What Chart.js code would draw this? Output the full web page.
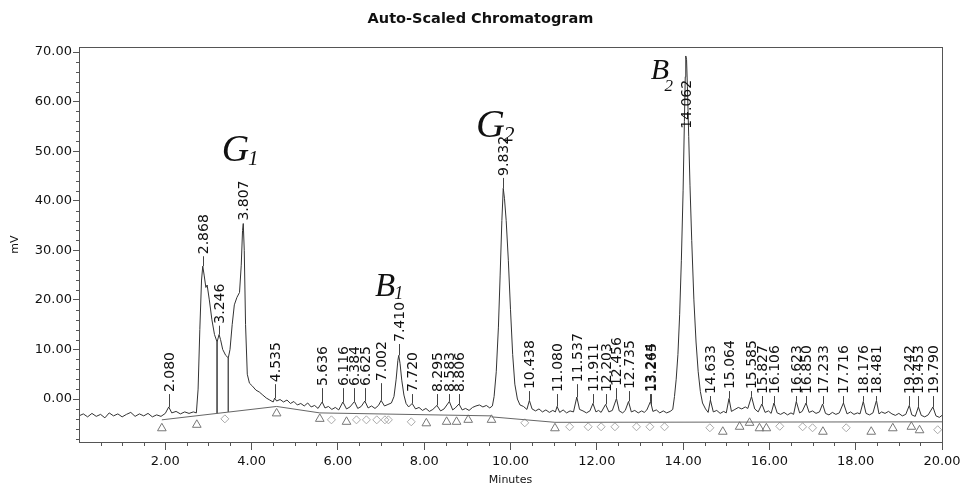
<!DOCTYPE html>
<html><head><meta charset="utf-8">
<style>html,body{margin:0;padding:0;background:#fff}canvas{display:block}</style>
<script src="https://cdn.jsdelivr.net/npm/chart.js@4.4.1/dist/chart.umd.min.js"></script>
</head><body>
<canvas id="c" width="961" height="487"></canvas>
<script>
// ---- data ----
const traceTime = [0.00,0.10,0.20,0.30,0.40,0.50,0.60,0.70,0.80,0.90,1.00,1.10,1.20,1.30,1.40,1.50,1.60,1.70,1.80,1.90,2.00,2.08,2.15,2.25,2.35,2.45,2.55,2.65,2.72,
 2.76,2.80,2.84,2.868,2.90,2.94,2.97,3.02,3.08,3.14,3.20,3.246,3.28,3.33,3.40,3.46,3.50,3.55,3.60,3.66,3.72,3.76,3.79,3.807,3.83,3.86,3.90,3.95,4.02,4.10,4.18,4.26,4.34,4.42,4.50,
 4.535,4.58,4.66,4.74,4.82,4.90,4.98,5.06,5.14,5.22,5.30,5.38,5.46,5.54,5.636,5.70,5.78,5.86,5.94,6.02,6.116,6.20,6.28,6.384,6.46,6.54,6.625,6.70,6.78,6.86,6.94,7.002,7.08,7.16,7.24,
 7.30,7.35,7.39,7.41,7.44,7.48,7.53,7.58,7.64,7.72,7.80,7.88,7.96,8.04,8.12,8.20,8.295,8.38,8.46,8.583,8.66,8.72,8.806,8.88,8.96,9.04,9.12,9.20,9.28,9.36,9.44,9.52,9.58,
 9.62,9.67,9.72,9.76,9.80,9.832,9.86,9.90,9.95,10.00,10.05,10.10,10.16,10.22,10.30,10.38,10.438,10.50,10.58,10.66,10.74,10.82,10.90,10.98,11.04,11.08,11.14,11.22,11.30,11.38,11.46,
 11.537,11.60,11.68,11.76,11.84,11.911,11.98,12.04,12.10,12.203,12.28,12.36,12.456,12.52,12.60,12.66,12.735,12.80,12.88,12.96,13.04,13.10,13.16,13.244,13.265,13.30,13.38,13.46,13.54,13.62,13.70,13.76,
 13.80,13.84,13.88,13.92,13.96,14.00,14.03,14.05,14.062,14.08,14.10,14.13,14.16,14.20,14.25,14.30,14.35,14.40,14.45,14.52,14.58,14.633,14.70,14.78,14.86,14.94,15.00,15.064,15.12,15.20,15.28,15.36,15.44,15.50,
 15.585,15.66,15.74,15.827,15.90,15.98,16.04,16.106,16.18,16.26,16.34,16.42,16.50,16.56,16.623,16.70,16.76,16.85,16.92,17.00,17.08,17.16,17.233,17.30,17.38,17.46,17.54,17.62,17.716,17.80,17.88,17.96,
 18.04,18.10,18.176,18.24,18.32,18.40,18.481,18.54,18.60,18.68,18.76,18.84,18.92,19.00,19.08,19.16,19.242,19.30,19.38,19.453,19.52,19.60,19.68,19.79,19.86,19.94,20.00];
const traceMV = [-3.4,-3.0,-3.6,-2.9,-3.5,-3.1,-3.8,-2.8,-3.4,-3.0,-3.6,-3.1,-2.7,-3.5,-3.0,-3.4,-2.9,-3.6,-3.2,-3.5,-2.9,-1.6,-2.8,-2.5,-3.0,-2.6,-2.9,-2.6,-2.8,
 2.0,14.0,24.0,26.8,25.0,22.5,23.0,20.0,16.0,13.0,11.5,13.0,12.0,10.0,8.8,8.3,10.0,15.0,19.0,20.5,21.5,27.0,34.0,35.4,30.0,15.0,5.0,3.2,2.6,1.8,1.4,0.8,0.2,-0.2,-0.6,
 0.2,-0.4,-0.1,-0.6,-0.2,-0.9,-0.5,-1.2,-0.9,-1.4,-0.8,-1.6,-1.3,-1.9,-0.6,-1.8,-1.5,-2.1,-1.7,-2.2,-0.6,-2.0,-1.6,-0.5,-1.9,-1.5,-0.4,-1.8,-1.4,-1.9,-1.3,-0.3,-1.4,-1.1,-0.8,
 0.5,4.0,7.8,8.8,7.2,3.8,0.8,-0.9,-1.6,-0.9,-2.0,-1.7,-2.3,-1.9,-2.5,-2.1,-1.3,-2.4,-2.0,-0.5,-2.2,-1.8,-1.0,-2.2,-1.9,-2.3,-1.7,-1.4,-1.2,-1.6,-1.3,-1.8,-1.4,
 0.5,5.5,14.5,25.0,36.0,42.5,40.5,36.0,28.0,18.0,9.0,3.0,0.0,-1.2,-1.5,-2.1,-0.3,-2.0,-2.4,-2.0,-2.6,-2.2,-2.7,-2.3,-2.6,-1.5,-2.7,-2.2,-2.8,-2.4,-2.6,
 0.4,-2.1,-2.4,-2.8,-2.4,-0.9,-2.6,-2.3,-2.7,-1.1,-2.6,-2.3,0.1,-2.4,-2.8,-2.3,-0.5,-2.6,-2.3,-2.8,-2.4,-2.7,-2.2,-0.5,-1.2,-2.5,-2.2,-2.8,-2.4,-2.8,-2.5,-2.1,
 0.5,4.0,9.0,17.0,28.0,42.0,56.0,65.0,69.2,68.5,63.0,53.0,43.0,32.0,20.0,11.5,5.5,1.5,-0.8,-2.0,-2.7,-0.2,-2.6,-2.3,-2.9,-2.5,-2.8,0.1,-2.5,-2.1,-1.7,-2.0,-1.6,-1.9,
 0.5,-2.0,-2.6,-1.0,-2.7,-2.4,-2.9,-0.8,-2.8,-3.1,-2.7,-3.2,-2.8,-3.1,-0.5,-2.8,-2.5,-0.8,-2.7,-2.4,-2.9,-2.6,-1.0,-2.9,-3.2,-2.7,-3.1,-2.8,-0.8,-3.0,-2.6,-3.1,
 -2.8,-3.0,-0.5,-2.9,-3.2,-2.8,-0.3,-3.0,-2.6,-2.9,-2.5,-3.0,-3.3,-2.9,-3.4,-3.1,-1.3,-3.2,-3.5,-1.6,-3.3,-3.6,-3.2,-1.6,-3.4,-3.7,-3.3];

const peakTimes = [2.080,2.868,3.246,3.807,4.535,5.636,6.116,6.384,6.625,7.002,7.410,7.720,8.295,8.583,8.806,9.832,10.438,11.080,11.537,11.911,12.203,12.456,12.735,13.244,13.265,
 14.062,14.633,15.064,15.585,15.827,16.106,16.623,16.850,17.233,17.716,18.176,18.481,19.242,19.453,19.790];
const peakLabels = ["2.080","2.868","3.246","3.807","4.535","5.636","6.116","6.384","6.625","7.002","7.410","7.720","8.295","8.583","8.806","9.832","10.438","11.080","11.537","11.911","12.203","12.456","12.735","13.244","13.265",
 "14.062","14.633","15.064","15.585","15.827","16.106","16.623","16.850","17.233","17.716","18.176","18.481","19.242","19.453","19.790"];
const peakLabelBase = [1.2,29.0,15.0,35.8,3.2,2.4,2.4,2.4,2.4,3.4,11.3,1.2,1.2,1.2,1.2,44.8,1.8,1.2,3.2,1.2,1.2,2.4,1.8,1.2,1.2,
 54.3,0.8,1.8,1.8,0.8,0.8,0.8,0.8,0.8,0.8,0.8,0.8,0.8,0.8,0.8];

const baselineTime = [1.92,4.58,4.58,4.58,5.58,9.56,9.56,9.56,11.03,20.0];
const baselineMV   = [-4.2,-1.5,null,-1.5,-2.8,-3.4,null,-3.6,-4.7,-4.6];
const dropTime = [3.20,3.20,3.20,3.46,3.46];
const dropMV   = [11.5,-2.9,null,8.3,-2.6];

const triangleTime = [1.92,2.73,4.58,5.58,6.20,8.05,8.52,8.75,9.02,9.56,11.03,14.92,15.31,15.54,15.77,15.93,17.24,18.36,18.86,19.29,19.48];
const triangleMV   = [-5.9,-5.2,-2.9,-4.0,-4.6,-4.9,-4.6,-4.6,-4.2,-4.2,-5.9,-6.6,-5.6,-4.8,-5.9,-5.9,-6.6,-6.6,-5.9,-5.6,-6.3];
const diamondTime = [3.38,5.85,6.43,6.66,6.90,7.09,7.17,7.70,10.33,11.37,11.80,12.10,12.42,12.92,13.23,13.57,14.62,16.24,16.77,17.00,17.78,19.90];
const diamondMV   = [-4.0,-4.2,-4.2,-4.2,-4.2,-4.2,-4.2,-4.6,-4.8,-5.6,-5.6,-5.6,-5.6,-5.6,-5.6,-5.6,-5.8,-5.5,-5.6,-5.8,-5.8,-6.2];

const noteMain = ["G","G","B","B"];
const noteSub  = ["1","2","1","2"];
const noteTime = [3.31,9.20,6.86,13.25];
const noteMV   = [48.0,52.9,20.8,64.6];

const xTickValues = [2,4,6,8,10,12,14,16,18,20];
const yTickValues = [0,10,20,30,40,50,60,70];

// ---- chart ----
const pts = (xs, ys) => xs.map((x, i) => ({x: x, y: ys[i]}));
const FONT = '"DejaVu Sans", sans-serif';

const decor = {
  id: 'decor',
  afterDatasetsDraw(chart) {
    const ctx = chart.ctx, xs = chart.scales.x, ys = chart.scales.y, a = chart.chartArea;
    ctx.save();
    // frame
    ctx.strokeStyle = '#555'; ctx.lineWidth = 1;
    ctx.strokeRect(Math.round(a.left) + 0.5, Math.round(a.top) + 0.5, Math.round(a.right - a.left), Math.round(a.bottom - a.top));
    // minor ticks
    ctx.beginPath();
    for (let v = 0.5; v < 20; v += 0.5) {
      if (Math.abs(v / 2 - Math.round(v / 2)) < 1e-6) continue;
      const px = Math.round(xs.getPixelForValue(v)) + 0.5;
      ctx.moveTo(px, a.bottom); ctx.lineTo(px, a.bottom + 4);
    }
    for (let v = -8; v <= 70; v += 2) {
      if (v % 10 === 0) continue;
      const py = Math.round(ys.getPixelForValue(v)) + 0.5;
      ctx.moveTo(a.left, py); ctx.lineTo(a.left - 3, py);
    }
    ctx.stroke();
    // peak labels
    ctx.font = '14px ' + FONT;
    ctx.fillStyle = '#111';
    ctx.strokeStyle = '#444';
    peakTimes.forEach((t, i) => {
      const px = Math.round(xs.getPixelForValue(t)) + 0.5;
      const by = ys.getPixelForValue(peakLabelBase[i]);
      let k = 0, best = 1e9;
      traceTime.forEach((tt, j) => { const d = Math.abs(tt - t); if (d < best) { best = d; k = j; } });
      const ty = ys.getPixelForValue(traceMV[k]);
      if (ty > by + 2) { ctx.beginPath(); ctx.moveTo(px, by + 1); ctx.lineTo(px, ty); ctx.stroke(); }
      ctx.save();
      ctx.translate(px + 1, by - 1);
      ctx.rotate(-Math.PI / 2);
      ctx.textAlign = 'left'; ctx.textBaseline = 'middle';
      ctx.fillText(peakLabels[i], 0, 0);
      ctx.restore();
    });
    // handwritten notes
    const sizes = [38, 40, 33, 30];
    noteMain.forEach((s, i) => {
      const px = xs.getPixelForValue(noteTime[i]);
      const py = ys.getPixelForValue(noteMV[i]);
      ctx.fillStyle = '#111';
      ctx.font = 'italic ' + sizes[i] + 'px "Liberation Serif", serif';
      ctx.textAlign = 'left'; ctx.textBaseline = 'alphabetic';
      ctx.fillText(s, px, py);
      const w = ctx.measureText(s).width;
      ctx.font = 'italic ' + Math.round(sizes[i] * 0.55) + 'px "Liberation Serif", serif';
      ctx.fillText(noteSub[i], px + w * (i === 3 ? 0.75 : 0.95), py + sizes[i] * (i === 3 ? 0.42 : 0.1));
    });
    ctx.restore();
  }
};

new Chart(document.getElementById('c'), {
  type: 'scatter',
  data: {
    datasets: [
      { data: pts(traceTime, traceMV), showLine: true, borderColor: '#333', borderWidth: 1, pointRadius: 0, tension: 0 },
      { data: pts(baselineTime, baselineMV), showLine: true, spanGaps: false, borderColor: '#666', borderWidth: 1, pointRadius: 0 },
      { data: pts(dropTime, dropMV), showLine: true, spanGaps: false, borderColor: '#555', borderWidth: 1, pointRadius: 0 },
      { data: pts(triangleTime, triangleMV), showLine: false, pointStyle: 'triangle', pointRadius: 5, borderColor: '#777', backgroundColor: 'rgba(0,0,0,0)', borderWidth: 1 },
      { data: pts(diamondTime, diamondMV), showLine: false, pointStyle: 'rectRot', pointRadius: 4, borderColor: '#aaa', backgroundColor: 'rgba(0,0,0,0)', borderWidth: 1 }
    ]
  },
  options: {
    responsive: false, animation: false, devicePixelRatio: 1,
    layout: { padding: { left: 0, right: 0, top: 0, bottom: 0 } },
    plugins: {
      legend: { display: false }, tooltip: { enabled: false },
      title: { display: true, text: 'Auto-Scaled Chromatogram', color: '#111',
        font: { family: FONT, size: 14.5, weight: 'bold' }, padding: { top: 11, bottom: 19 } }
    },
    scales: {
      x: {
        type: 'linear', min: 0, max: 20,
        afterBuildTicks: s => { s.ticks = xTickValues.map(v => ({ value: v })); },
        afterFit: s => { s.height = 45; s.paddingRight = 19; },
        ticks: { callback: v => Number(v).toFixed(2), color: '#111', font: { family: FONT, size: 13 }, padding: 4, maxRotation: 0, autoSkip: false },
        grid: { drawOnChartArea: false, drawTicks: true, tickLength: 8, tickColor: '#555' },
        border: { color: '#555' },
        title: { display: true, text: 'Minutes', color: '#111', font: { family: FONT, size: 11 }, padding: { top: 0, bottom: 0 } }
      },
      y: {
        type: 'linear', min: -8.67, max: 70.93,
        afterBuildTicks: s => { s.ticks = yTickValues.map(v => ({ value: v })); },
        afterFit: s => { s.width = 79; },
        ticks: { callback: v => Number(v).toFixed(2), color: '#111', font: { family: FONT, size: 13 }, padding: 1 },
        grid: { drawOnChartArea: false, drawTicks: true, tickLength: 6, tickColor: '#555' },
        border: { color: '#555' },
        title: { display: true, text: 'mV', color: '#111', font: { family: FONT, size: 11 }, padding: { top: 9, bottom: 0 } }
      }
    }
  },
  plugins: [decor]
});
</script>
</body></html>
